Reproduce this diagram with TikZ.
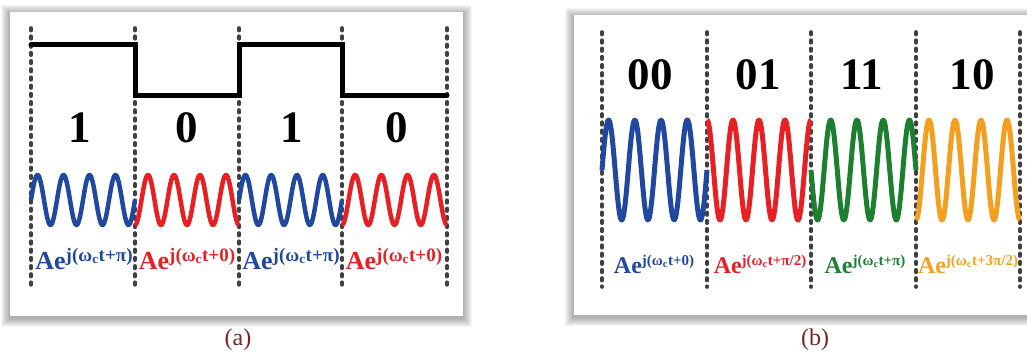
\documentclass[tikz,border=0pt]{standalone}
\usepackage{fontspec}
\setmainfont{Liberation Serif}
\usetikzlibrary{calc, positioning}

\definecolor{bitblue}{RGB}{32,72,160}
\definecolor{bitred}{RGB}{232,32,36}
\definecolor{bitgreen}{RGB}{28,128,48}
\definecolor{bitorange}{RGB}{244,160,30}
\definecolor{divgray}{RGB}{64,64,64}
\definecolor{capred}{RGB}{122,34,38}

% Ae^{j(w_c t + phase)} set as bold text
\newcommand{\phaseterm}[3]{\fontsize{#1}{#1}\selectfont\bfseries Ae\raisebox{0.3em}{\fontsize{#2}{#2}\selectfont j(ω\textsubscript{c}t+#3)}}

\tikzset{
  panelbox/.style={fill=white},
  divider/.style={divgray, line width=3.6pt, line cap=round, dash pattern=on 2.6pt off 5.6pt},
  carrier/.style={line width=4.5pt, line join=round},
  bitlabel/.style={font=\fontsize{45}{45}\selectfont\bfseries, inner sep=0pt},
  phaselabel/.style={anchor=base, inner sep=0pt},
  caption/.style={font=\fontsize{24}{24}\selectfont, text=capred, inner sep=0pt}
}

\begin{document}
\begin{tikzpicture}[x=1pt, y=-1pt]
\useasboundingbox (0,0) rectangle (1027,353);
\clip (0,0) rectangle (1027,353);

% soft shadows and white panels
\foreach \s in {1,...,9} {
  \fill[black, opacity=0.04] (10-\s,14-\s) rectangle (463+\s,318+\s);
  \fill[black, opacity=0.04] (574-\s,17-\s) rectangle (1045+\s,317+\s);
}
\fill[panelbox] (10,12) rectangle (463,316);
\fill[panelbox] (574,15) rectangle (1045,315);

% ---- panel (a): BPSK ----
\foreach \i/\xa in {0/31, 1/135, 2/239, 3/342, 4/447} {
  \coordinate (da\i top) at (\xa,28);
  \coordinate (da\i bot) at (\xa,285);
  \draw[divider] (da\i top) -- (da\i bot);
}

\coordinate (S0) at (31,45);
\coordinate (S1) at (135,45);
\coordinate (S2) at (135,95);
\coordinate (S3) at (239,95);
\coordinate (S4) at (239,45);
\coordinate (S5) at (342,45);
\coordinate (S6) at (342,95);
\coordinate (S7) at (447,95);
\draw[line width=5pt, line cap=round, line join=miter] (S0) -- (S1) -- (S2) -- (S3) -- (S4) -- (S5) -- (S6) -- (S7);

\node[bitlabel] (bitA) at (80,128) {1};
\node[bitlabel] (bitB) at (187,128) {0};
\node[bitlabel] (bitC) at (292,128) {1};
\node[bitlabel] (bitD) at (397,128) {0};

\foreach \xs/\xe/\col/\ph in {31/135/bitblue/0, 135/239/bitred/-90, 239/342/bitblue/0, 342/447/bitred/-90}
  \draw[carrier, \col] plot[domain=\xs:\xe, samples=160] (\x, {200-25*sin((\x-\xs)/(\xe-\xs)*1440+\ph)});

\node[phaselabel, text=bitblue] (phA) at (84,269) {\phaseterm{26}{19}{π}};
\node[phaselabel, text=bitred] (phB) at (187,269) {\phaseterm{26}{19}{0}};
\node[phaselabel, text=bitblue] (phC) at (291,269) {\phaseterm{26}{19}{π}};
\node[phaselabel, text=bitred] (phD) at (394,269) {\phaseterm{26}{19}{0}};

\node[caption] (capA) at (238,340) {(a)};

% ---- panel (b): QPSK ----
\foreach \i/\xb in {0/602, 1/707, 2/811, 3/916, 4/1020} {
  \coordinate (db\i top) at (\xb,32);
  \coordinate (db\i bot) at (\xb,287);
  \draw[divider] (db\i top) -- (db\i bot);
}

\node[bitlabel] (symA) at (650,75) {00};
\node[bitlabel] (symB) at (758,75) {01};
\node[bitlabel] (symC) at (862,75) {11};
\node[bitlabel] (symD) at (972,75) {10};

\foreach \xs/\xe/\col/\ph in {602/707/bitblue/0, 707/811/bitred/90, 811/916/bitgreen/180, 916/1020/bitorange/270}
  \draw[carrier, line width=5pt, \col] plot[domain=\xs:\xe, samples=160] (\x, {170-50*sin((\x-\xs)/(\xe-\xs)*1440+\ph)});

\node[phaselabel, text=bitblue] (psA) at (654,273) {\phaseterm{24}{15}{0}};
\node[phaselabel, text=bitred] (psB) at (760,273) {\phaseterm{24}{15}{π/2}};
\node[phaselabel, text=bitgreen] (psC) at (865,273) {\phaseterm{24}{15}{π}};
\node[phaselabel, text=bitorange] (psD) at (968,273) {\phaseterm{24}{15}{3π/2}};

\node[caption] (capB) at (815,340) {(b)};
\end{tikzpicture}
\end{document}
